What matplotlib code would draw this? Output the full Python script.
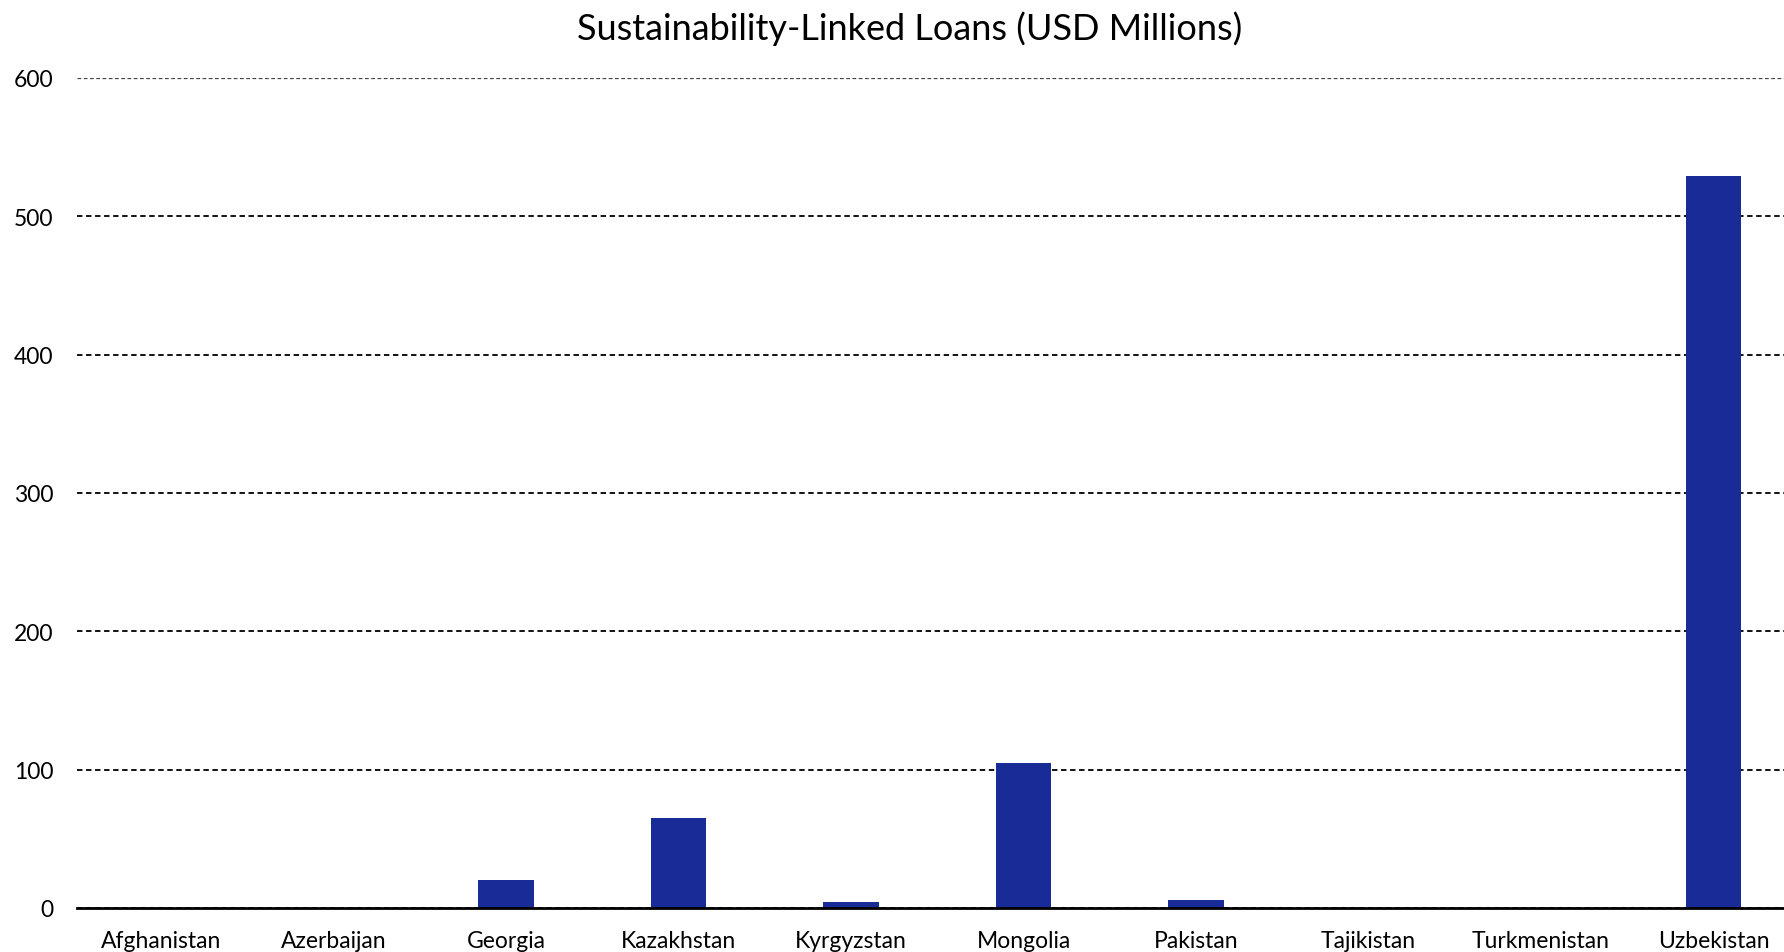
import matplotlib.pyplot as plt
import numpy as np

countries = ['Afghanistan', 'Azerbaijan', 'Georgia', 'Kazakhstan', 'Kyrgyzstan',
             'Mongolia', 'Pakistan', 'Tajikistan', 'Turkmenistan', 'Uzbekistan']
loans = [0, 0, 20, 65, 4.5, 105, 5.5, 0, 0, 529]
yticks = [0, 100, 200, 300, 400, 500, 600]

plt.rcParams['font.family'] = ['Lato', 'DejaVu Sans']

fig = plt.figure(figsize=(17.84, 9.53), dpi=100)
ax = fig.add_axes([0.0432, 0.0462, 0.9568, 0.871])

x = np.arange(len(countries))
ax.bar(x, loans, width=0.32, color='#182b97', zorder=3)

ax.set_xlim(-0.487, 9.409)
ax.set_ylim(0, 600)
ax.set_yticks(yticks)
ax.set_xticks(x)
ax.set_xticklabels(countries)

# dashed grid, solid baseline
ax.yaxis.grid(True, linestyle=(0, (3, 2)), color='black', linewidth=1.3, zorder=1)
top = ax.get_ygridlines()[-1]
top.set_linewidth(0.9)
top.set_color('#444444')
for s in ['top', 'right', 'left']:
    ax.spines[s].set_visible(False)
ax.spines['bottom'].set_linewidth(2)
ax.spines['bottom'].set_zorder(4)

ax.tick_params(axis='both', length=0, labelsize=16.5)
ax.tick_params(axis='y', pad=17)
ax.tick_params(axis='x', pad=16)

fig.text(0.510, 0.970, 'Sustainability-Linked Loans (USD Millions)',
         ha='center', va='center', fontsize=26)

fig.savefig('out.png', dpi=100, facecolor='white')
